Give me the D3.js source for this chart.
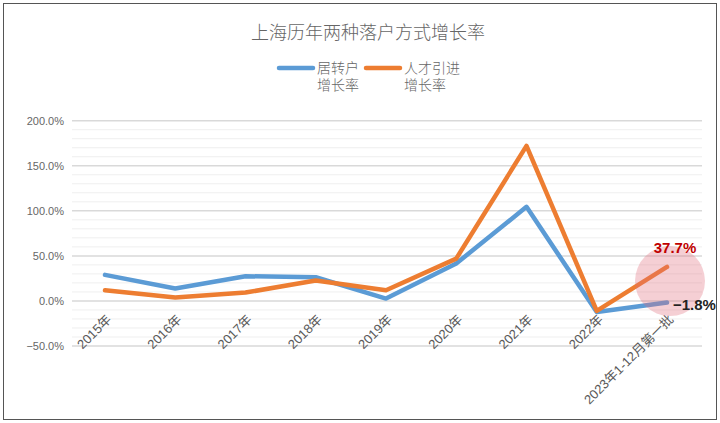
<!DOCTYPE html>
<html><head><meta charset="utf-8">
<script src="https://cdn.jsdelivr.net/npm/d3@7"></script>
<style>body{margin:0;background:#fff}svg{display:block}</style>
</head><body>
<svg id="c" width="720" height="423"></svg>
<script>
const categories = ["2015年","2016年","2017年","2018年","2019年","2020年","2021年","2022年","2023年1-12月第一批"];
const juzhuanhu = [28.9, 13.8, 27.4, 26.3, 2.6, 41.5, 104.4, -12.2, -1.8];
const rencai = [11.9, 3.7, 9.3, 22.6, 11.9, 47.0, 172.0, -11.0, 37.7];
const seriesNames = ["居转户\n增长率","人才引进\n增长率"];
const seriesColors = ["#5B9BD5","#ED7D31"];
const yTicks = [-50, 0, 50, 100, 150, 200];
const title = "上海历年两种落户方式增长率";

const svg = d3.select("#c");
const cjk = "'Noto Sans CJK SC','Noto Sans',sans-serif";
const lat = "'Liberation Sans',Arial,'Noto Sans CJK SC',sans-serif";

svg.append("rect").attr("x",3.5).attr("y",3.5).attr("width",713).attr("height",416)
  .attr("fill","#fff").attr("stroke","#555").attr("stroke-width",1);

const x = d3.scalePoint().domain(categories).range([105, 667]);
const y = d3.scaleLinear().domain([-50, 200]).range([346, 120.7]);
const x0 = 72, x1 = 702;

// minor grid
const minor = d3.range(-50, 201, 10).filter(v => v % 50 !== 0);
svg.append("g").selectAll("line").data(minor).join("line")
  .attr("x1",x0).attr("x2",x1).attr("y1",d=>y(d)).attr("y2",d=>y(d))
  .attr("stroke","#efefef").attr("stroke-width",1);
// major grid
svg.append("g").selectAll("line").data(yTicks).join("line")
  .attr("x1",x0).attr("x2",x1).attr("y1",d=>y(d)).attr("y2",d=>y(d))
  .attr("stroke","#d9d9d9").attr("stroke-width",1.5);

// y axis labels
const yAxis = d3.axisLeft(y).tickValues(yTicks).tickSize(0).tickPadding(0)
  .tickFormat(d => d3.format(".1f")(d) + "%");
const gy = svg.append("g").attr("transform","translate(64,0)").call(yAxis);
gy.select(".domain").remove();
gy.selectAll("text").attr("font-family",lat).attr("font-size",11).attr("fill","#666");

// x axis labels
const xAxis = d3.axisBottom(x).tickSize(0).tickPadding(0);
const gx = svg.append("g").call(xAxis);
gx.select(".domain").remove();
gx.selectAll(".tick").attr("transform", d => `translate(${x(d)+4},317)`);
gx.selectAll("text").attr("font-family",lat).attr("font-size",13).attr("fill","#595959")
  .attr("text-anchor","end").attr("dy","0.35em").attr("y",0).attr("x",0)
  .attr("transform","rotate(-45)");

// lines
const line = d3.line().x((d,i)=>x(categories[i])).y(d=>y(d));
[juzhuanhu, rencai].forEach((s,k)=>{
  svg.append("path").datum(s).attr("d",line).attr("fill","none")
    .attr("stroke",seriesColors[k]).attr("stroke-width",4.5)
    .attr("stroke-linejoin","round").attr("stroke-linecap","round");
});

// highlight circle
const last = categories[categories.length-1];
svg.append("circle").attr("cx",x(last)+3).attr("cy",y(22)).attr("r",35)
  .attr("fill","rgba(225,110,125,0.33)");

// value labels
svg.append("text").attr("x",x(last)+8).attr("y",y(rencai[8])-14)
  .attr("text-anchor","middle").attr("font-family",lat).attr("font-weight","bold")
  .attr("font-size",15).attr("fill","#C00000").text(d3.format(".1f")(rencai[8])+"%");
svg.append("text").attr("x",x(last)+6).attr("y",y(juzhuanhu[8])+2).attr("dy","0.35em")
  .attr("text-anchor","start").attr("font-family",lat).attr("font-weight","bold")
  .attr("font-size",15).attr("fill","#222").text(d3.format(".1f")(juzhuanhu[8])+"%");

// title
svg.append("text").attr("x",368).attr("y",39).attr("text-anchor","middle")
  .attr("font-family",cjk).attr("font-size",18).attr("fill","#666").attr("font-weight",300)
  .text(title);

// legend
const legX = [277, 364];
seriesNames.forEach((n,k)=>{
  svg.append("line").attr("x1",legX[k]+2).attr("x2",legX[k]+36).attr("y1",68).attr("y2",68)
    .attr("stroke",seriesColors[k]).attr("stroke-width",4.5).attr("stroke-linecap","round");
  n.split("\n").forEach((p,i)=>{
    svg.append("text").attr("x",legX[k]+40).attr("y",73 + i*16.5)
      .attr("font-family","'Liberation Serif','Noto Sans CJK SC',serif").attr("font-size",14)
      .attr("fill","#666").attr("font-weight",300)
      .text(p);
  });
});
</script>
</body></html>
